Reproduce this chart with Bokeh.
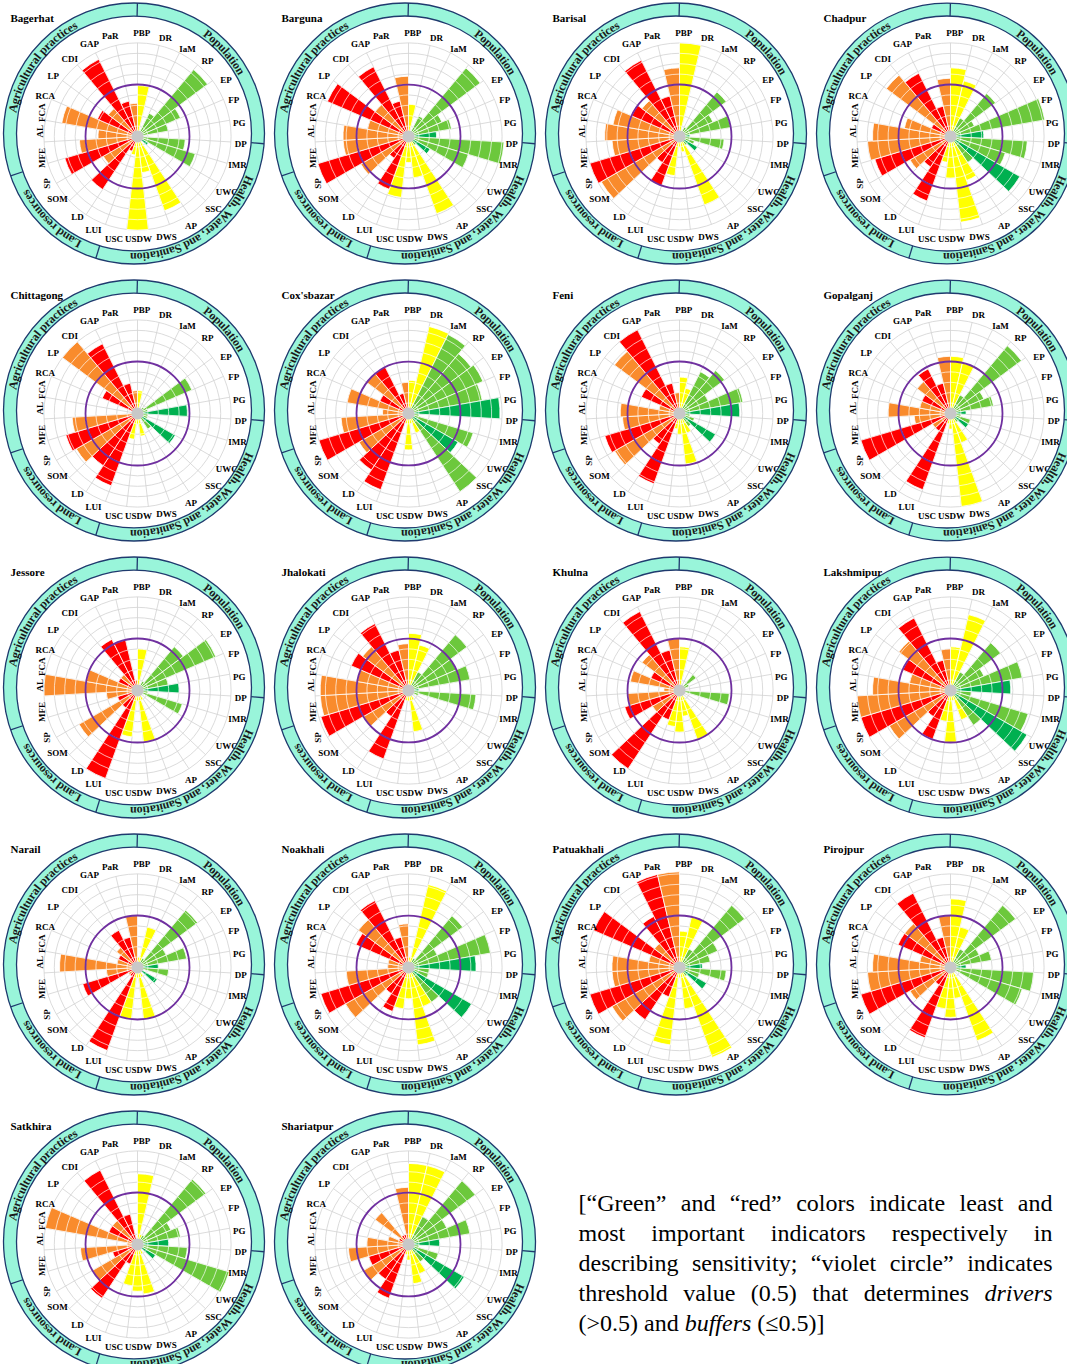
import math
from bokeh.plotting import figure
from bokeh.models import Range1d, ColumnDataSource
from bokeh.core.properties import value
from bokeh.embed import file_html
from bokeh.resources import INLINE

# ---------------- data ----------------
indicators = ["PBP", "DR", "IaM", "RP", "EP", "FP", "PG", "DP", "IMR", "UWC", "SSC", "AP", "DWS",
              "USDW", "USC", "LUI", "LD", "SOM", "SP", "MFE", "AL", "FCA", "RCA", "LP", "CDI", "GAP", "PaR"]
indicator_class = ["Y", "Y", "G", "G", "G", "G", "D", "G", "G", "D", "G", "Y", "Y",
                   "Y", "Y", "R", "R", "O", "R", "O", "O", "O", "R", "O", "R", "R", "O"]
groups = ["Population", "Health, Water, and Sanitation", "Land resources", "Agricultural practices"]

districts = ["Bagerhat", "Barguna", "Barisal", "Chadpur", "Chittagong", "Cox'sbazar", "Feni", "Gopalganj",
             "Jessore", "Jhalokati", "Khulna", "Lakshmipur", "Narail", "Noakhali", "Patuakhali", "Pirojpur",
             "Satkhira", "Shariatpur"]

bagerhat = [0.49, 0.05, 0.25, 0.84, 0.45, 0.30, 0.06, 0.46, 0.58, 0.12, 0.05, 0.76, 0.35, 0.90, 0.18, 0.15, 0.61, 0.38, 0.73, 0.56, 0.38, 0.74, 0.42, 0.35, 0.83, 0.35, 0.32]
barguna = [0.31, 0.03, 0.22, 0.86, 0.35, 0.42, 0.27, 0.92, 0.60, 0.24, 0.10, 0.79, 0.40, 0.25, 0.59, 0.54, 0.25, 0.53, 0.91, 0.63, 0.63, 0.40, 0.85, 0.40, 0.75, 0.35, 0.58]
barisal = [0.90, 0.03, 0.10, 0.56, 0.35, 0.50, 0.10, 0.43, 0.15, 0.20, 0.10, 0.70, 0.15, 0.10, 0.38, 0.51, 0.30, 0.87, 0.90, 0.65, 0.72, 0.65, 0.50, 0.45, 0.82, 0.40, 0.66]
chadpur = [0.66, 0.55, 0.20, 0.54, 0.25, 0.92, 0.32, 0.74, 0.55, 0.77, 0.30, 0.45, 0.83, 0.40, 0.25, 0.66, 0.35, 0.45, 0.76, 0.80, 0.75, 0.45, 0.20, 0.77, 0.68, 0.30, 0.56]
chittagong = [0.22, 0.03, 0.05, 0.08, 0.57, 0.10, 0.48, 0.10, 0.10, 0.42, 0.18, 0.05, 0.22, 0.10, 0.25, 0.74, 0.60, 0.68, 0.72, 0.63, 0.05, 0.05, 0.37, 0.90, 0.75, 0.30, 0.22]
coxsbazar = [0.32, 0.86, 0.85, 0.75, 0.78, 0.72, 0.88, 0.10, 0.65, 0.55, 0.90, 0.20, 0.10, 0.35, 0.10, 0.78, 0.65, 0.55, 0.90, 0.65, 0.25, 0.60, 0.30, 0.50, 0.50, 0.20, 0.30]
feni = [0.35, 0.25, 0.45, 0.54, 0.30, 0.62, 0.58, 0.10, 0.15, 0.40, 0.15, 0.20, 0.49, 0.20, 0.15, 0.72, 0.35, 0.72, 0.75, 0.55, 0.57, 0.20, 0.40, 0.78, 0.90, 0.30, 0.20]
gopalganj = [0.55, 0.50, 0.20, 0.85, 0.35, 0.42, 0.15, 0.10, 0.20, 0.20, 0.10, 0.30, 0.90, 0.15, 0.10, 0.78, 0.20, 0.20, 0.90, 0.35, 0.60, 0.30, 0.30, 0.40, 0.48, 0.30, 0.55]
jessore = [0.40, 0.03, 0.10, 0.55, 0.82, 0.30, 0.40, 0.10, 0.45, 0.05, 0.05, 0.10, 0.50, 0.10, 0.45, 0.90, 0.20, 0.65, 0.20, 0.30, 0.90, 0.50, 0.20, 0.20, 0.55, 0.50, 0.10]
jhalokati = [0.55, 0.45, 0.20, 0.70, 0.50, 0.60, 0.10, 0.65, 0.10, 0.05, 0.05, 0.10, 0.40, 0.10, 0.10, 0.70, 0.30, 0.50, 0.88, 0.85, 0.85, 0.50, 0.60, 0.55, 0.72, 0.40, 0.45]
khulna = [0.42, 0.05, 0.05, 0.20, 0.10, 0.05, 0.03, 0.48, 0.05, 0.03, 0.03, 0.50, 0.25, 0.40, 0.35, 0.30, 0.90, 0.30, 0.55, 0.50, 0.15, 0.48, 0.30, 0.45, 0.85, 0.40, 0.50]
lakshmipur = [0.42, 0.75, 0.20, 0.60, 0.35, 0.70, 0.58, 0.20, 0.78, 0.85, 0.40, 0.30, 0.10, 0.50, 0.30, 0.50, 0.30, 0.68, 0.90, 0.90, 0.75, 0.40, 0.50, 0.62, 0.78, 0.30, 0.40]
narail = [0.10, 0.40, 0.10, 0.72, 0.30, 0.48, 0.20, 0.30, 0.05, 0.22, 0.05, 0.10, 0.50, 0.10, 0.50, 0.85, 0.10, 0.10, 0.55, 0.30, 0.75, 0.20, 0.20, 0.25, 0.40, 0.30, 0.50]
noakhali = [0.10, 0.82, 0.10, 0.65, 0.30, 0.80, 0.65, 0.20, 0.20, 0.70, 0.40, 0.40, 0.75, 0.30, 0.40, 0.45, 0.30, 0.70, 0.88, 0.60, 0.20, 0.20, 0.55, 0.60, 0.72, 0.30, 0.42]
patuakhali = [0.35, 0.50, 0.20, 0.78, 0.40, 0.30, 0.22, 0.45, 0.20, 0.30, 0.10, 0.92, 0.40, 0.10, 0.75, 0.30, 0.60, 0.75, 0.90, 0.65, 0.65, 0.30, 0.90, 0.30, 0.55, 0.92, 0.92]
pirojpur = [0.66, 0.40, 0.20, 0.78, 0.30, 0.40, 0.15, 0.80, 0.72, 0.05, 0.05, 0.75, 0.30, 0.48, 0.40, 0.72, 0.20, 0.45, 0.90, 0.80, 0.75, 0.30, 0.55, 0.55, 0.80, 0.30, 0.50]
satkhira = [0.68, 0.10, 0.10, 0.82, 0.35, 0.42, 0.30, 0.48, 0.92, 0.20, 0.05, 0.10, 0.48, 0.45, 0.40, 0.20, 0.62, 0.50, 0.25, 0.55, 0.10, 0.90, 0.30, 0.30, 0.80, 0.30, 0.03]
shariatpur = [0.78, 0.78, 0.30, 0.80, 0.40, 0.60, 0.30, 0.10, 0.30, 0.62, 0.20, 0.30, 0.38, 0.15, 0.10, 0.55, 0.40, 0.50, 0.40, 0.58, 0.40, 0.20, 0.10, 0.40, 0.10, 0.10, 0.55]

district_values = [bagerhat, barguna, barisal, chadpur, chittagong, coxsbazar, feni, gopalganj, jessore,
                   jhalokati, khulna, lakshmipur, narail, noakhali, patuakhali, pirojpur, satkhira, shariatpur]

threshold = 0.5
grid_levels = [0.1, 0.2, 0.3, 0.4, 0.5, 0.6, 0.7, 0.8, 0.9]

# ---------------- style ----------------
palette = {"R": "#FF0000", "O": "#F98B2C", "Y": "#FFFF00", "G": "#6CC83C", "D": "#00B050"}
RING_FILL = "#99F5DA"
RING_LINE = "#1F3A6E"
VIOLET = "#7030A0"
GRID = "#D2D2D2"
SERIF = value("Liberation Serif")

# label placement around each polar chart (degrees clockwise from top, pixel radius)
label_deg = [2.4, 16, 29.7, 42.9, 57.5, 69, 82.3, 94.4, 106, 121.8, 133.5, 149, 163.9,
             179.4, 193, 205.3, 216.8, 231.8, 242.6, 257.4, 273, 284, 293.6, 305.8, 318.8, 332.7, 344.9]
label_rad = [104, 102, 101, 103, 105, 103, 102.6, 103.6, 104, 105, 104.7, 104, 105,
             103, 105, 103, 100, 101.8, 102, 98, 98, 98.5, 100.8, 104, 103, 104.6, 104.6]
vertical_labels = ("FCA", "AL", "MFE", "SP")

PAGE_H = 1372
W, H = 1067, 1364
COL_W, ROW_H = 271, 277
PCX, PCY = 137, 136          # polar centre inside a panel
RCX, RCY = 133.5, 133.0      # decorative ring centre inside a panel
UNIT = 104.0                 # pixels for value 1.0
R_IN, R_OUT = 117.5, 130.5
N = len(indicators)
STEP = 2 * math.pi / N

TB = {"A": 722, "H": 778, "L": 667, "P": 611, "S": 556, "W": 1000, "a": 500, "c": 444, "d": 556,
      "e": 444, "g": 500, "h": 556, "i": 278, "l": 278, "n": 556, "o": 500, "p": 556, "r": 444,
      "s": 389, "t": 333, "u": 556, " ": 250, ",": 250}
TR = {" ": 250, "a": 444, "b": 500, "c": 444, "d": 500, "e": 444, "f": 333, "g": 500, "h": 500, "i": 278,
      "j": 278, "k": 500, "l": 278, "m": 778, "n": 500, "o": 500, "p": 500, "q": 500, "r": 333, "s": 389,
      "t": 278, "u": 500, "v": 500, "w": 722, "x": 500, "y": 500, "z": 444, "G": 722, "[": 333, "]": 333,
      "\u201c": 444, "\u201d": 444, ";": 278, "(": 333, ")": 333, ".": 250, ">": 564, "\u2264": 549, ",": 250}
TI = dict(TR)
TI.update({"r": 389, "f": 278, "v": 444})


def Y(y):
    return PAGE_H - y


def tw(s, table, size):
    return sum(table.get(c, 500) for c in s) * size / 1000.0


p = figure(width=W, height=H, x_range=Range1d(0, W), y_range=Range1d(PAGE_H - H, PAGE_H),
           output_backend="svg", toolbar_location=None, x_axis_type=None, y_axis_type=None, min_border=0)
p.grid.visible = False
p.outline_line_color = None

ring = dict(x=[], y=[])
divs = dict(x0=[], y0=[], x1=[], y1=[])
gcirc = dict(x=[], y=[], r=[])
spokes = dict(x0=[], y0=[], x1=[], y1=[])
bars = dict(x=[], y=[], r=[], s=[], e=[], c=[])
warcs = dict(x=[], y=[], r=[], s=[], e=[])
cen = dict(x=[], y=[])
labs = dict(x=[], y=[], t=[], a=[])
rtxt = dict(x=[], y=[], t=[], a=[])
titles = dict(x=[], y=[], t=[])

group_mid = [48.0, 146.0, 224.0, 306.0]
divider_deg = [1.5, 94.5, 197.0, 251.0]

for i, (name, vals) in enumerate(zip(districts, district_values)):
    ox, oy = (i % 4) * COL_W, (i // 4) * ROW_H
    cx, cy = ox + PCX, Y(oy + PCY)
    rx, ry = ox + RCX, Y(oy + RCY)
    ring["x"].append(rx); ring["y"].append(ry)
    for d in divider_deg:
        a = math.radians(d)
        divs["x0"].append(rx + R_IN * math.sin(a)); divs["y0"].append(ry + R_IN * math.cos(a))
        divs["x1"].append(rx + R_OUT * math.sin(a)); divs["y1"].append(ry + R_OUT * math.cos(a))
    for g in grid_levels:
        gcirc["x"].append(cx); gcirc["y"].append(cy); gcirc["r"].append(g * UNIT)
    for k in range(N):
        a = k * STEP
        spokes["x0"].append(cx); spokes["y0"].append(cy)
        spokes["x1"].append(cx + grid_levels[-1] * UNIT * math.sin(a))
        spokes["y1"].append(cy + grid_levels[-1] * UNIT * math.cos(a))
    for k, v in enumerate(vals):
        s = math.pi / 2 - k * STEP
        e = math.pi / 2 - (k + 1) * STEP
        bars["x"].append(cx); bars["y"].append(cy); bars["r"].append(v * UNIT)
        bars["s"].append(s); bars["e"].append(e); bars["c"].append(palette[indicator_class[k]])
        for g in grid_levels:
            if g < v - 0.01:
                warcs["x"].append(cx); warcs["y"].append(cy); warcs["r"].append(g * UNIT)
                warcs["s"].append(s); warcs["e"].append(e)
    cen["x"].append(cx); cen["y"].append(cy)
    for lab, dg, rr in zip(indicators, label_deg, label_rad):
        a = math.radians(dg)
        ang = math.pi / 2 if lab in vertical_labels else 0.0
        labs["x"].append(cx + rr * math.sin(a)); labs["y"].append(cy + rr * math.cos(a))
        labs["t"].append(lab); labs["a"].append(ang)
    for gname, gm in zip(groups, group_mid):
        size = 12
        total = tw(gname, TB, size)
        R = 123.5
        cum = 0.0
        for ch in gname:
            w = TB.get(ch, 500) * size / 1000.0
            sarc = cum + w / 2 - total / 2
            phi = math.radians(gm) + sarc / R
            cum += w
            if ch == " ":
                continue
            rtxt["x"].append(rx + R * math.sin(phi)); rtxt["y"].append(ry + R * math.cos(phi))
            rtxt["t"].append(ch); rtxt["a"].append(-phi)
    titles["x"].append(ox + 10); titles["y"].append(Y(oy + 17)); titles["t"].append(name)

p.annulus(x="x", y="y", inner_radius=R_IN, outer_radius=R_OUT, source=ColumnDataSource(ring),
          fill_color=RING_FILL, line_color=None)
p.circle(x="x", y="y", radius=R_OUT, source=ColumnDataSource(ring), fill_color=None,
         line_color=RING_LINE, line_width=1.3)
p.circle(x="x", y="y", radius=R_IN, source=ColumnDataSource(ring), fill_color=None,
         line_color=RING_LINE, line_width=1.3)
p.segment(x0="x0", y0="y0", x1="x1", y1="y1", source=ColumnDataSource(divs), line_color=RING_LINE, line_width=1.3)

p.circle(x="x", y="y", radius="r", source=ColumnDataSource(gcirc), fill_color=None, line_color=GRID, line_width=0.8)
p.segment(x0="x0", y0="y0", x1="x1", y1="y1", source=ColumnDataSource(spokes), line_color=GRID, line_width=0.8)

p.wedge(x="x", y="y", radius="r", start_angle="s", end_angle="e", direction="clock",
        source=ColumnDataSource(bars), fill_color="c", line_color="white", line_width=0.8)
p.arc(x="x", y="y", radius="r", start_angle="s", end_angle="e", direction="clock",
      source=ColumnDataSource(warcs), line_color="white", line_width=0.8, line_alpha=0.85)

p.circle(x="x", y="y", radius=threshold * UNIT, source=ColumnDataSource(cen), fill_color=None,
         line_color=VIOLET, line_width=1.8)
p.circle(x="x", y="y", radius=6, source=ColumnDataSource(cen), fill_color="#C8C8C8", line_color=None)

p.text(x="x", y="y", text="t", angle="a", source=ColumnDataSource(labs), text_font=SERIF,
       text_font_size="9px", text_font_style="bold", text_align="center", text_baseline="middle",
       text_color="black")
p.text(x="x", y="y", text="t", angle="a", source=ColumnDataSource(rtxt), text_font=SERIF,
       text_font_size="12px", text_font_style="bold", text_align="center", text_baseline="middle",
       text_color="#1a1a1a")
p.text(x="x", y="y", text="t", source=ColumnDataSource(titles), text_font=SERIF,
       text_font_size="11px", text_font_style="bold", text_align="left", text_baseline="middle",
       text_color="black")

# ---------------- note (justified) ----------------
note_lines = [
    [("[\u201cGreen\u201d", 0), ("and", 0), ("\u201cred\u201d", 0), ("colors", 0), ("indicate", 0), ("least", 0), ("and", 0)],
    [("most", 0), ("important", 0), ("indicators", 0), ("respectively", 0), ("in", 0)],
    [("describing", 0), ("sensitivity;", 0), ("\u201cviolet", 0), ("circle\u201d", 0), ("indicates", 0)],
    [("threshold", 0), ("value", 0), ("(0.5)", 0), ("that", 0), ("determines", 0), ("drivers", 1)],
    [("(>0.5)", 0), ("and", 0), ("buffers", 1), ("(\u22640.5)]", 0)],
]
NOTE_SIZE = 24
NX0, NX1 = 578, 1052
NY0, NDY = 1202, 30.2
norm = dict(x=[], y=[], t=[])
ital = dict(x=[], y=[], t=[])
for li, words in enumerate(note_lines):
    widths = [tw(w, TI if it else TR, NOTE_SIZE) for w, it in words]
    if li < len(note_lines) - 1:
        gap = (NX1 - NX0 - sum(widths)) / (len(words) - 1)
    else:
        gap = 250 * NOTE_SIZE / 1000.0
    x = NX0
    for (w, it), wd in zip(words, widths):
        tgt = ital if it else norm
        tgt["x"].append(x); tgt["y"].append(Y(NY0 + li * NDY)); tgt["t"].append(w)
        x += wd + gap
p.text(x="x", y="y", text="t", source=ColumnDataSource(norm), text_font=SERIF, text_font_size="%dpx" % NOTE_SIZE,
       text_align="left", text_baseline="middle", text_color="black")
p.text(x="x", y="y", text="t", source=ColumnDataSource(ital), text_font=SERIF, text_font_size="%dpx" % NOTE_SIZE,
       text_font_style="italic", text_align="left", text_baseline="middle", text_color="black")

open("out.html", "w").write(file_html(p, INLINE))
